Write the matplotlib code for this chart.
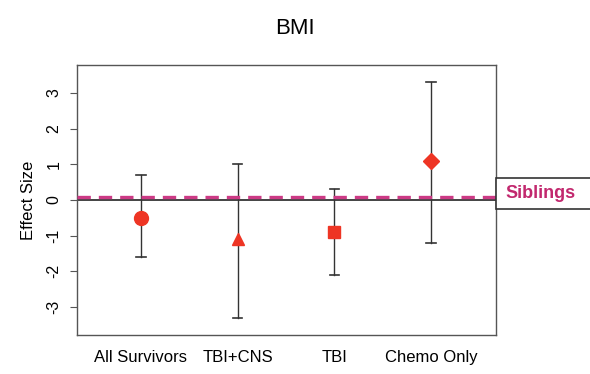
import matplotlib
matplotlib.use("Agg")
import matplotlib.pyplot as plt
from matplotlib.patches import Rectangle

plt.rcParams["font.family"] = ["Liberation Sans", "DejaVu Sans"]

categories = ["All Survivors", "TBI+CNS", "TBI", "Chemo Only"]
effects = [-0.5, -1.1, -0.9, 1.1]
lower = [-1.6, -3.3, -2.1, -1.2]
upper = [0.7, 1.0, 0.3, 3.3]
markers = ["o", "^", "s", "D"]
marker_sizes = [10, 9, 9, 8]
siblings_value = 0.08
yticks = [-3, -2, -1, 0, 1, 2, 3]

fig = plt.figure(figsize=(5.9, 3.74), dpi=100)
ax = fig.add_axes([77/590, 1-335/374, (496-77)/590, (335-65)/374])

xs = list(range(1, len(categories) + 1))
for x, e, lo, hi, m, ms in zip(xs, effects, lower, upper, markers, marker_sizes):
    ax.plot([x, x], [lo, hi], color="#333333", lw=1.0, zorder=2)
    ax.plot([x - 0.05, x + 0.05], [lo, lo], color="#333333", lw=1.2, zorder=2)
    ax.plot([x - 0.05, x + 0.05], [hi, hi], color="#333333", lw=1.2, zorder=2)
    ax.plot(x, e, marker=m, color="#ee3524", markersize=ms, linestyle="none", zorder=4)

ax.axhline(0, color="#222222", lw=1.2, zorder=1)
ax.axhline(siblings_value, color="#cc3a85", lw=2.4, ls=(0, (4, 2.4)), zorder=3)

ax.set_xlim(0.34, 4.67)
ax.set_ylim(-3.78, 3.78)
ax.set_yticks(yticks)
ax.set_yticklabels([str(t) for t in yticks], rotation=90, va="center", fontsize=11.5)
ax.tick_params(axis="y", length=5, width=0.8, color="#555555", pad=6)
ax.set_xticks(xs)
ax.set_xticklabels(categories, fontsize=12)
ax.tick_params(axis="x", length=0, pad=11)
for s in ax.spines.values():
    s.set_color("#555555")
    s.set_linewidth(1.0)
ax.set_ylabel("Effect Size", fontsize=12, labelpad=8)

fig.text(0.5, 1 - 28/374, "BMI", ha="center", va="center", fontsize=16)

rect = Rectangle((496/590, 1-209/374), 0.3, 31/374, transform=fig.transFigure,
                 facecolor="white", edgecolor="#333333", lw=1.2, clip_on=False)
fig.add_artist(rect)
fig.text(505/590, 1-194/374, "Siblings", color="#c2286e", fontweight="bold",
         fontsize=13, ha="left", va="center")

fig.savefig("out.png", dpi=100)
